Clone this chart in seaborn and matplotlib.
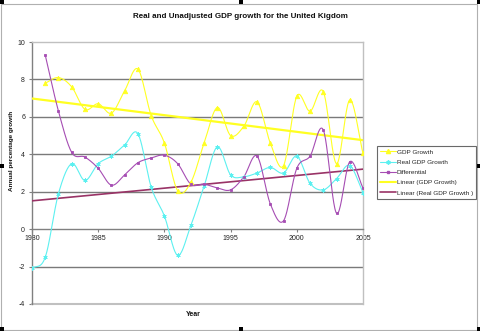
import numpy as np
import pandas as pd
import matplotlib
matplotlib.use("Agg")
import matplotlib.pyplot as plt
from matplotlib.lines import Line2D
from matplotlib.patches import Rectangle
import seaborn as sns

# ---------------- data ----------------
years = list(range(1980, 2006))
gdp_growth = [np.nan, 7.8, 8.1, 7.6, 6.4, 6.7, 6.2, 7.4, 8.55, 6.07, 4.6, 2.05, 2.5,
              4.6, 6.5, 5.0, 5.5, 6.8, 4.6, 3.4, 7.1, 6.3, 7.35, 3.5, 6.9, 4.05]
real_gdp_growth = [-2.1, -1.5, 1.9, 3.5, 2.6, 3.5, 3.9, 4.5, 5.1, 2.25, 0.7, -1.4, 0.2,
                   2.3, 4.4, 2.9, 2.8, 3.0, 3.3, 3.0, 3.9, 2.45, 2.1, 2.7, 3.4, 1.95]
differential = [np.nan, 9.3, 6.3, 4.1, 3.85, 3.25, 2.35, 2.9, 3.55, 3.8, 3.95, 3.5, 2.4,
                2.4, 2.2, 2.1, 2.8, 3.9, 1.35, 0.45, 3.25, 3.9, 5.3, 0.85, 3.6, 2.2]
series_names = ["GDP Growth", "Real GDP Growth", "Differential"]
trend_names = ["Linear (GDP Growth)", "Linear (Real GDP Growth )"]
title = "Real and Unadjusted GDP growth for the United Kigdom"
y_ticks = [-4, -2, 0, 2, 4, 6, 8, 10]
x_ticks = [1980, 1985, 1990, 1995, 2000, 2005]

# ---------------- style ----------------
sns.set_theme(style="white")
plt.rcParams["font.family"] = ["Liberation Sans", "DejaVu Sans"]

C_GDP = "#FFFF22"
C_REAL = "#5CF0F0"
C_DIFF = "#A64DB3"
C_TREND2 = "#993366"


def smooth(xs, ys, n=24):
    """Bezier smoothing (like Excel 'smoothed line') for drawing only."""
    xs = np.asarray(xs, float)
    ys = np.asarray(ys, float)
    m = ~np.isnan(ys)
    xs, ys = xs[m], ys[m]
    px = np.concatenate([[2 * xs[0] - xs[1]], xs, [2 * xs[-1] - xs[-2]]])
    py = np.concatenate([[2 * ys[0] - ys[1]], ys, [2 * ys[-1] - ys[-2]]])
    ox, oy = [], []
    t = np.linspace(0, 1, n, endpoint=False)
    for i in range(1, len(px) - 2):
        p0, p1, p2, p3 = (np.array([px[j], py[j]]) for j in range(i - 1, i + 3))
        b1 = p1 + (p2 - p0) / 6
        b2 = p2 - (p3 - p1) / 6
        for tt in t:
            pt = ((1 - tt) ** 3) * p1 + 3 * ((1 - tt) ** 2) * tt * b1 + 3 * (1 - tt) * tt ** 2 * b2 + tt ** 3 * p2
            ox.append(pt[0]); oy.append(pt[1])
    ox.append(xs[-1]); oy.append(ys[-1])
    return np.array(ox), np.array(oy)


W, H = 481, 331
fig = plt.figure(figsize=(W / 100, H / 100), dpi=100)
fig.patch.set_facecolor("white")
L, R, T, B = 32, 363, 42, 304
ax = fig.add_axes([L / W, 1 - B / H, (R - L) / W, (B - T) / H])
ax.set_facecolor("white")

# gridlines
for g in [8, 6, 4, 2, -2]:
    ax.axhline(g, color="#7a7a7a", lw=1.0, zorder=1)

df = pd.DataFrame({"Year": years, series_names[0]: gdp_growth,
                   series_names[1]: real_gdp_growth, series_names[2]: differential})

# trend lines (least squares fit)
for name, col, lw in [(series_names[0], C_GDP, 1.6), (series_names[1], C_TREND2, 1.2)]:
    sub = df[["Year", name]].dropna()
    k, b = np.polyfit(sub["Year"], sub[name], 1)
    tx = np.array([1980, 2005], float)
    sns.lineplot(x=tx, y=k * tx + b, ax=ax, color=col, lw=lw, zorder=3)

specs = [(series_names[0], C_GDP, "^", 3.2),
         (series_names[1], C_REAL, (6, 2, 0), 3.0),
         (series_names[2], C_DIFF, "s", 1.8)]
for name, col, mk, ms in specs:
    sx, sy = smooth(df["Year"], df[name])
    sns.lineplot(x=sx, y=sy, ax=ax, color=col, lw=0.8, sort=False, zorder=4)
    sub = df[["Year", name]].dropna()
    ax.plot(sub["Year"], sub[name], linestyle="none", marker=mk, ms=ms, color=col,
            markeredgecolor=col, markeredgewidth=0.6, zorder=5)

ax.spines["bottom"].set_position(("data", 0))
ax.set_xlim(1980, 2005)
ax.set_ylim(-4, 10)
ax.set_yticks(y_ticks)
ax.set_yticklabels([str(v) for v in y_ticks], fontsize=5, color="#222222")
ax.set_xticks(x_ticks)
ax.set_xticklabels([str(v) for v in x_ticks], fontsize=5, color="#222222")
ax.tick_params(axis="y", direction="out", length=2.5, width=0.8, color="#808080", pad=2.5, left=True)
ax.tick_params(axis="x", direction="out", length=2.5, width=0.8, color="#808080", pad=1.5, bottom=True)
for s in ["top", "right"]:
    ax.spines[s].set_color("#c0c0c0"); ax.spines[s].set_linewidth(1.0)
ax.spines["left"].set_color("#808080"); ax.spines["left"].set_linewidth(1.0)
ax.spines["bottom"].set_color("#808080"); ax.spines["bottom"].set_linewidth(1.0)
ax.axhline(-4, color="#c0c0c0", lw=1.5, zorder=2, clip_on=False)
ax.set_xlabel(""); ax.set_ylabel("")

fig.text(240 / W, 1 - 16 / H, title, ha="center", va="center", fontsize=5.8,
         fontweight="bold", color="#111111")
fig.text(12 / W, 1 - 151 / H, "Annual percentage growth", ha="center", va="center",
         rotation=90, fontsize=4.6, fontweight="bold", color="#111111")
fig.text(193 / W, 1 - 315 / H, "Year", ha="center", va="center", fontsize=5,
         fontweight="bold", color="#111111")

handles = [Line2D([], [], color=C_GDP, marker="^", ms=3, lw=0.8),
           Line2D([], [], color=C_REAL, marker=(6, 2, 0), ms=3, lw=0.8),
           Line2D([], [], color=C_DIFF, marker="s", ms=1.8, lw=0.8),
           Line2D([], [], color=C_GDP, lw=1.5),
           Line2D([], [], color=C_TREND2, lw=1.2)]
leg = fig.legend(handles, series_names + trend_names, loc="upper left",
                 bbox_to_anchor=(377 / W, 1 - 146 / H), fontsize=4.6, frameon=True,
                 fancybox=False, borderpad=0.5, labelspacing=0.75, handlelength=2.4,
                 handletextpad=0.2, borderaxespad=0)
leg.get_frame().set_edgecolor("#444444")
leg.get_frame().set_linewidth(0.8)

# chart border and selection handles
fig.add_artist(Rectangle((0.5 / W, 1.5 / H), (W - 4) / W, (H - 5) / H, transform=fig.transFigure,
                         fill=False, edgecolor="#b0b0b0", lw=0.8))
for (hx, hy) in [(0, 0), (239, 0), (477, 0), (0, 164), (477, 164), (0, 327), (239, 327), (477, 327)]:
    fig.add_artist(Rectangle((hx / W, 1 - (hy + 4) / H), 4 / W, 4 / H, transform=fig.transFigure,
                             color="black", lw=0))

fig.savefig("out.png", dpi=100, facecolor="white")
